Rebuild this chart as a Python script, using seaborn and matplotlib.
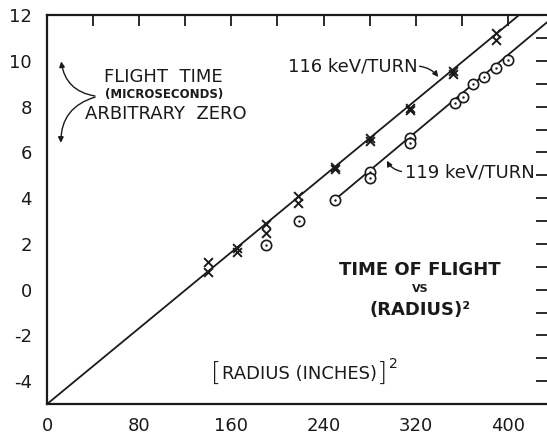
import matplotlib
matplotlib.use("Agg")
import matplotlib.pyplot as plt
import seaborn as sns
import pandas as pd

# ---- data ----
x116 = [140, 140, 165, 165, 190.5, 190.5, 218, 218, 250, 250, 280, 280, 315.5, 315.5, 352, 352, 390, 390]
y116 = [1.22, 0.78, 1.81, 1.63, 2.88, 2.47, 4.09, 3.79, 5.38, 5.28, 6.62, 6.52, 7.95, 7.85, 9.55, 9.45, 11.22, 10.93]
x119 = [190.5, 219, 250, 280, 280, 315.5, 315.5, 354, 361, 369.5, 379, 390, 400]
y119 = [1.96, 2.99, 3.94, 5.16, 4.90, 6.62, 6.41, 8.18, 8.41, 8.97, 9.28, 9.68, 10.04]
fit116_x = [0, 412]
fit116_y = [-5.0, 12.1]
fit119_x = [250, 434]
fit119_y = [3.94, 11.69]
xtick_labels = ["0", "80", "160", "240", "320", "400"]
ytick_labels = ["-4", "-2", "0", "2", "4", "6", "8", "10", "12"]

sns.set_theme(style="white")
plt.rcParams["font.family"] = ["DejaVu Sans"]
ink = "#1a1a1a"

fig = plt.figure(figsize=(5.47, 4.34), dpi=100)
ax = fig.add_axes([0.086, 0.069, 0.914, 0.896])

sns.lineplot(x=fit116_x, y=fit116_y, ax=ax, color=ink, lw=1.3)
sns.lineplot(x=fit119_x, y=fit119_y, ax=ax, color=ink, lw=1.3)
sns.scatterplot(x=x116, y=y116, ax=ax, marker="x", s=40, color=ink, linewidth=1.4, zorder=5)
sns.scatterplot(x=x119, y=y119, ax=ax, marker="o", s=55, facecolor="white",
                edgecolor=ink, linewidth=1.2, zorder=5)
sns.scatterplot(x=x119, y=y119, ax=ax, marker="o", s=3, color=ink, linewidth=0, zorder=6)

ax.set_xlim(0, 434)
ax.set_ylim(-5, 12)
xt = list(range(0, 434, 40))
ax.set_xticks(xt)
ax.set_xticklabels([xtick_labels[i // 2] if i % 2 == 0 else "" for i in range(len(xt))])
ax.set_yticks(range(-5, 13))
ylab = {int(t): t for t in ytick_labels}
ax.set_yticklabels([ylab.get(v, "") for v in range(-5, 13)])
ax.tick_params(axis="both", direction="in", length=8, width=1.3, color=ink,
               labelsize=13, labelcolor=ink, top=True, right=True)
ax.tick_params(axis="x", pad=9)
ax.tick_params(axis="y", pad=11)
for s in ["left", "bottom", "top"]:
    ax.spines[s].set_color(ink)
    ax.spines[s].set_linewidth(1.6)
ax.spines["right"].set_visible(False)
ax.set_xlabel("")
ax.set_ylabel("")

# annotations
ax.text(265, 9.75, "116 keV/TURN", fontsize=13, color=ink, ha="center", va="center")
ax.annotate("", xy=(341, 9.2), xytext=(321, 9.78),
            arrowprops=dict(arrowstyle="-|>", color=ink, lw=1.0, mutation_scale=8,
                            connectionstyle="arc3,rad=-0.25"))
ax.text(367, 5.12, "119 keV/TURN", fontsize=13, color=ink, ha="center", va="center")
ax.annotate("", xy=(294, 5.75), xytext=(310, 5.15),
            arrowprops=dict(arrowstyle="-|>", color=ink, lw=1.0, mutation_scale=8,
                            connectionstyle="arc3,rad=-0.3"))

ax.text(101, 9.31, "FLIGHT  TIME", fontsize=13, color=ink, ha="center", va="center")
ax.text(102, 8.53, "(MICROSECONDS)", fontsize=8.5, color=ink, ha="center", va="center", weight="bold")
ax.text(103, 7.69, "ARBITRARY  ZERO", fontsize=13, color=ink, ha="center", va="center")
ax.annotate("", xy=(12, 10.1), xytext=(44, 8.45),
            arrowprops=dict(arrowstyle="-|>", color=ink, lw=1.0, mutation_scale=8,
                            connectionstyle="arc3,rad=-0.4"))
ax.annotate("", xy=(12, 6.3), xytext=(44, 8.45),
            arrowprops=dict(arrowstyle="-|>", color=ink, lw=1.0, mutation_scale=8,
                            connectionstyle="arc3,rad=0.4"))

ax.text(324, 0.85, "TIME OF FLIGHT", fontsize=13, color=ink, ha="center", va="center", weight="bold")
ax.text(324, 0.04, "VS", fontsize=8, color=ink, ha="center", va="center", weight="bold")
ax.text(324, -0.91, "(RADIUS)²", fontsize=13, color=ink, ha="center", va="center", weight="bold")

ax.text(219, -3.7, "RADIUS (INCHES)", fontsize=13, color=ink, ha="center", va="center")
ax.text(147, -3.65, "[", fontsize=19, color=ink, ha="center", va="center", weight="light")
ax.text(291, -3.65, "]", fontsize=19, color=ink, ha="center", va="center", weight="light")
ax.text(297, -3.25, "2", fontsize=10, color=ink, ha="left", va="center")

fig.savefig("out.png", dpi=100)
